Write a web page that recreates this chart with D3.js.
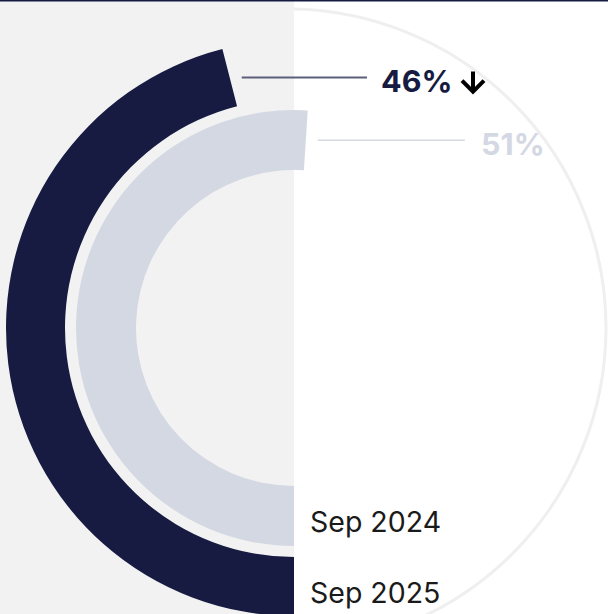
<!DOCTYPE html>
<html>
<head>
<meta charset="utf-8">
<script src="https://cdn.jsdelivr.net/npm/d3@7"></script>
<style>
  html, body { margin: 0; padding: 0; background: #fff; }
  svg { display: block; }
</style>
</head>
<body>
<script>
// series, outer ring first
const periods = ["Sep 2025", "Sep 2024"];
const shares = [46, 51];
const shareLabels = ["46%", "51%"];
const trend = ["down", null];

const W = 608, H = 614;
const cx = 294, cy = 328;
const rings = [
  {inner: 229, outer: 288, fill: "#171b41", lineEnd: 367, textX: 381, textFill: "#171b41", lineStroke: "#5c5f7b", lineW: 2},
  {inner: 158, outer: 218, fill: "#d3d8e3", lineEnd: 465, textX: 481, textFill: "#d3d8e3", lineStroke: "#d6d9e0", lineW: 1.5}
];

const angle = d3.scaleLinear().domain([0, 100]).range([0, 2 * Math.PI]);

const svg = d3.select("body").append("svg")
  .attr("width", W).attr("height", H);

// left half panel
svg.append("rect").attr("x", 0).attr("y", 0).attr("width", cx).attr("height", H).attr("fill", "#f2f2f2");
svg.append("rect").attr("x", 0).attr("y", 0).attr("width", W).attr("height", 1.5).attr("fill", "#171b41");

// faint outline circle on the right
svg.append("circle")
  .attr("cx", cx - 7).attr("cy", cy).attr("r", 319)
  .attr("fill", "none").attr("stroke", "#efefef").attr("stroke-width", 3)
  .attr("clip-path", "url(#rightHalf)");
svg.append("clipPath").attr("id", "rightHalf")
  .append("rect").attr("x", cx).attr("y", 0).attr("width", W - cx).attr("height", H);

const g = svg.append("g").attr("transform", `translate(${cx},${cy})`);
const arc = d3.arc();

shares.forEach((v, i) => {
  const r = rings[i];
  const a0 = Math.PI, a1 = Math.PI + angle(v);
  g.append("path")
    .attr("d", arc({innerRadius: r.inner, outerRadius: r.outer, startAngle: a0, endAngle: a1}))
    .attr("fill", r.fill);

  // leader line from the arc end
  const mid = (r.inner + r.outer) / 2;
  const ex = mid * Math.sin(a1), ey = -mid * Math.cos(a1);
  g.append("line")
    .attr("x1", ex + 12).attr("y1", ey)
    .attr("x2", r.lineEnd - cx).attr("y2", ey)
    .attr("stroke", r.lineStroke).attr("stroke-width", r.lineW);

  g.append("text")
    .attr("x", r.textX - cx).attr("y", ey + 14.5)
    .attr("font-family", "Inter, 'Noto Sans', sans-serif")
    .attr("font-weight", 700).attr("font-size", 30.5)
    .attr("fill", r.textFill)
    .text(shareLabels[i]);

  if (trend[i] === "down") {
    const ax = r.textX - cx + 92, ay = ey;
    g.append("path")
      .attr("d", `M${ax},${ay - 6}V${ay + 14}M${ax - 11},${ay + 3}L${ax},${ay + 14}L${ax + 11},${ay + 3}`)
      .attr("fill", "none").attr("stroke", "#000").attr("stroke-width", 4);
  }

  // period label at the ring bottom
  g.append("text")
    .attr("x", 16).attr("y", mid + 16)
    .attr("font-family", "Inter, 'Noto Sans', sans-serif")
    .attr("font-size", 28.5)
    .attr("fill", "#1a1a1a")
    .text(periods[i]);
});
</script>
</body>
</html>
